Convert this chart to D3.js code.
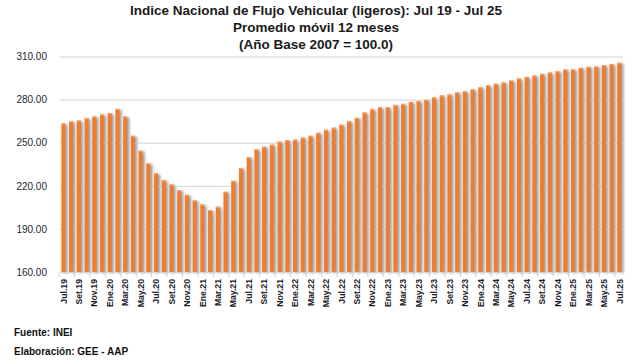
<!DOCTYPE html>
<html><head><meta charset="utf-8">
<script src="https://cdn.jsdelivr.net/npm/d3@7"></script>
<style>body{margin:0;background:#fff}svg{display:block}</style>
</head><body>
<script>
const categories = ["Jul.19","Ago.19","Set.19","Oct.19","Nov.19","Dic.19",
"Ene.20","Feb.20","Mar.20","Abr.20","May.20","Jun.20","Jul.20","Ago.20","Set.20","Oct.20","Nov.20","Dic.20",
"Ene.21","Feb.21","Mar.21","Abr.21","May.21","Jun.21","Jul.21","Ago.21","Set.21","Oct.21","Nov.21","Dic.21",
"Ene.22","Feb.22","Mar.22","Abr.22","May.22","Jun.22","Jul.22","Ago.22","Set.22","Oct.22","Nov.22","Dic.22",
"Ene.23","Feb.23","Mar.23","Abr.23","May.23","Jun.23","Jul.23","Ago.23","Set.23","Oct.23","Nov.23","Dic.23",
"Ene.24","Feb.24","Mar.24","Abr.24","May.24","Jun.24","Jul.24","Ago.24","Set.24","Oct.24","Nov.24","Dic.24",
"Ene.25","Feb.25","Mar.25","Abr.25","May.25","Jun.25","Jul.25"];
const values = [263.4,264.8,265.4,267.0,268.2,269.6,
270.5,273.5,268.2,254.8,244.4,235.6,228.7,223.9,220.9,216.9,213.7,209.8,
207.0,203.1,205.4,215.8,223.5,232.4,239.8,245.3,247.2,248.6,250.7,251.8,
252.1,253.5,254.8,256.9,259.0,260.4,262.5,265.0,267.3,271.0,273.3,274.7,
274.7,276.3,277.0,278.4,279.0,279.8,281.5,282.9,283.6,285.0,285.7,287.1,
288.5,289.9,291.0,291.9,293.3,294.7,295.8,296.7,297.9,298.8,299.7,300.9,
301.1,302.1,302.8,303.0,304.0,304.7,305.6];
const yTicks = [160,190,220,250,280,310];
const titleLines = ["Indice Nacional de Flujo Vehicular (ligeros): Jul 19 - Jul 25","Promedio móvil 12 meses","(Año Base 2007 = 100.0)"];
const footnotes = ["Fuente: INEI","Elaboración: GEE - AAP"];

const W=634,H=364;
const svg=d3.select("body").append("svg").attr("width",W).attr("height",H);
const defs=svg.append("defs");
const f=defs.append("filter").attr("id","sh").attr("x","-100%").attr("y","-10%").attr("width","400%").attr("height","120%");
f.append("feGaussianBlur").attr("in","SourceAlpha").attr("stdDeviation",1.6).attr("result","b");
f.append("feOffset").attr("in","b").attr("dx",2.2).attr("dy",1).attr("result","o");
f.append("feComponentTransfer").attr("in","o").append("feFuncA").attr("type","linear").attr("slope",0.42);

const x=d3.scaleBand().domain(d3.range(categories.length)).range([59.5,623.2]).paddingInner(0.47).paddingOuter(0.24);
const y=d3.scaleLinear().domain([160,310]).range([272,56.5]);

// shadows
svg.append("g").attr("filter","url(#sh)").selectAll("rect").data(values).join("rect")
  .attr("x",(d,i)=>x(i)).attr("width",x.bandwidth()).attr("y",d=>y(d)).attr("height",d=>y(160)-y(d)).attr("fill","#000");

// gridlines
const yAxis=d3.axisLeft(y).tickValues(yTicks).tickSize(-(623-60)).tickFormat(d3.format(".2f")).tickPadding(13);
const ga=svg.append("g").attr("transform","translate(60,0)").call(yAxis);
ga.select(".domain").remove();
ga.selectAll(".tick line").attr("stroke",(d)=>d===160?"#d0d0d0":"#c8c8c8").attr("stroke-opacity",0.8);
ga.selectAll(".tick text").attr("font-family","'Liberation Sans',Arial,sans-serif").attr("font-size",10).attr("fill","#1f1f2f");

// bars
svg.append("g").selectAll("rect").data(values).join("rect")
  .attr("x",(d,i)=>x(i)).attr("width",x.bandwidth()).attr("y",d=>y(d)).attr("height",d=>y(160)-y(d)).attr("fill","#ED7D31");
svg.append("g").selectAll("rect").data(values).join("rect")
  .attr("x",(d,i)=>x(i)).attr("width",x.bandwidth()).attr("y",d=>y(d)).attr("height",1).attr("fill","#F5A874");

// x axis ticks and labels
const step=x.step();
const gx=svg.append("g");
categories.forEach((c,i)=>{
  if(i%2===0){
    const cx=x(i)+x.bandwidth()/2;
    gx.append("line").attr("x1",cx-step/2-0.5).attr("x2",cx-step/2-0.5).attr("y1",272).attr("y2",277).attr("stroke","#d0d0d0");
    gx.append("text").attr("transform",`translate(${cx+3.2},279) rotate(-90)`).attr("text-anchor","end")
      .attr("font-family","'Liberation Sans',Arial,sans-serif").attr("font-size",8.7).attr("font-weight","bold").attr("fill","#1a1a2a").text(c);
  }
});

// title
const tt=svg.append("g");
titleLines.forEach((t,i)=>{
  tt.append("text").attr("x",316).attr("y",14.5+i*17).attr("text-anchor","middle")
    .attr("font-family","'Liberation Sans',Arial,sans-serif").attr("font-weight","bold").attr("font-size",13.5).attr("fill","#1a1a1a").text(t);
});
footnotes.forEach((t,i)=>{
  svg.append("text").attr("x",14).attr("y",336+i*19).attr("font-family","'Liberation Sans',Arial,sans-serif")
    .attr("font-weight","bold").attr("font-size",10).attr("fill","#111").text(t);
});
</script>
</body></html>
